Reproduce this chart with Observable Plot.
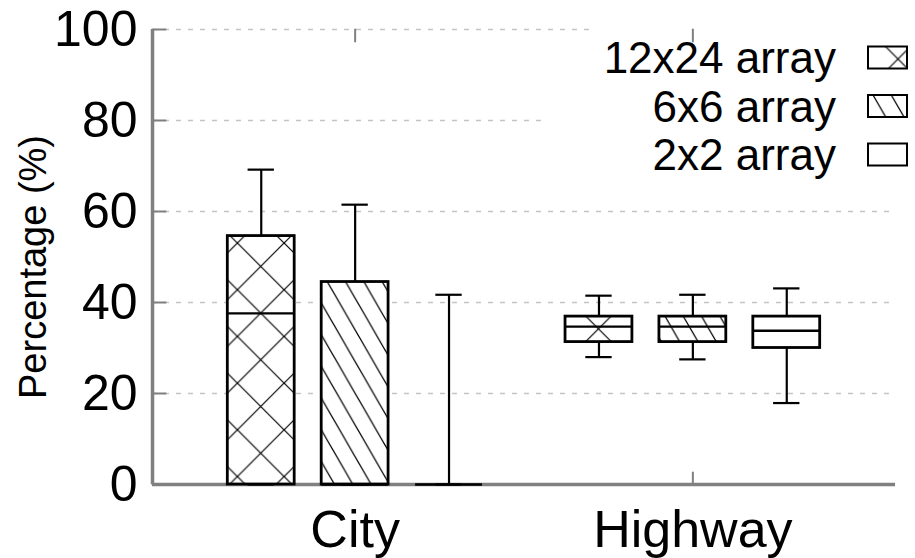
<!DOCTYPE html>
<html><head><meta charset="utf-8">
<script src="https://cdn.jsdelivr.net/npm/d3@7"></script>
<script src="https://cdn.jsdelivr.net/npm/@observablehq/plot@0.6"></script>
<style>body{margin:0;background:#fff} svg{display:block}</style>
</head><body><div id="chart"></div>
<script>
// ---- data ----
const categories = ["City", "Highway"];
const series = ["12x24 array", "6x6 array", "2x2 array"];
const whiskerLow  = [[0, 0, 0], [28.0, 27.5, 17.9]];
const quartile1   = [[0, 0, 0], [31.3, 31.3, 30.0]];
const medians     = [[37.6, 0, 0], [34.7, 34.7, 33.8]];
const quartile3   = [[54.6, 44.5, 0], [36.9, 36.9, 36.9]];
const whiskerHigh = [[69.2, 61.5, 41.7], [41.5, 41.7, 43.1]];
const yTicks = [0, 20, 40, 60, 80, 100];
const yLabel = "Percentage (%)";

// ---- layout / style ----
const W = 915, H = 558;
const FONT = "'Liberation Sans', Arial, Helvetica, sans-serif";
const xDomain = [0.4, 2.6];
const seriesOffset = [-0.278, 0, 0.278];
const boxHalf = 0.099;
const capHalf = 0.039;
const patternKind = ["cross", "diag", "none"];
const AXIS = "#808080";

const rows = [];
categories.forEach((c, ci) => series.forEach((s, si) => rows.push({
  category: c, ci, si, series: s,
  xc: ci + 1 + seriesOffset[si],
  low: whiskerLow[ci][si], q1: quartile1[ci][si], med: medians[ci][si],
  q3: quartile3[ci][si], high: whiskerHigh[ci][si],
  fill: patternKind[si] === "none" ? "white" : `url(#hatch-${ci}-${si})`
})));

function addPattern(defs, id, kind, ox, oy) {
  if (kind === "cross") {
    const s = 46.7;
    const p = defs.append("pattern").attr("id", id).attr("patternUnits", "userSpaceOnUse")
      .attr("width", s).attr("height", s)
      .attr("patternTransform", `translate(${ox - s / 2},${oy - s / 2})`);
    p.append("rect").attr("width", s).attr("height", s).attr("fill", "white");
    p.append("path").attr("d", `M${-s/2},${-s/2}L${1.5*s},${1.5*s}M${1.5*s},${-s/2}L${-s/2},${1.5*s}`)
      .attr("stroke", "black").attr("stroke-width", 1.2).attr("fill", "none");
  } else if (kind === "diag") {
    const w = 18.3, h = 31.7;
    const p = defs.append("pattern").attr("id", id).attr("patternUnits", "userSpaceOnUse")
      .attr("width", w).attr("height", h)
      .attr("patternTransform", `translate(${ox},${oy})`);
    p.append("rect").attr("width", w).attr("height", h).attr("fill", "white");
    p.append("path").attr("d", `M${-w},${-h}L${2*w},${2*h}M0,${-h}L${2*w},${h}M${-2*w},${-h}L${w},${2*h}`)
      .attr("stroke", "black").attr("stroke-width", 1.2).attr("fill", "none");
  }
}

function patternDefs(index, scales) {
  const g = d3.create("svg:g");
  const defs = g.append("defs");
  for (const r of rows) {
    const kind = patternKind[r.si];
    if (kind === "none") continue;
    const left = scales.x(r.xc - boxHalf), right = scales.x(r.xc + boxHalf);
    const top = scales.y(r.q3), bottom = scales.y(r.q1);
    if (kind === "cross") addPattern(defs, `hatch-${r.ci}-${r.si}`, kind, (left + right) / 2, (top + bottom) / 2);
    else addPattern(defs, `hatch-${r.ci}-${r.si}`, kind, left + 6, top);
  }
  addPattern(defs, "legend-0", "cross", 898, 59);
  addPattern(defs, "legend-1", "diag", 873, 95);
  return g.node();
}

function legendBackground() {
  const g = d3.create("svg:g");
  g.append("rect").attr("x", 590).attr("y", 18).attr("width", W - 590).attr("height", 24).attr("fill", "white");
  g.append("rect").attr("x", 545).attr("y", 40).attr("width", W - 545).attr("height", 147).attr("fill", "white");
  return g.node();
}

function legend() {
  const g = d3.create("svg:g").attr("font-family", FONT);
  series.forEach((s, si) => {
    const base = 73 + si * 48.5;
    g.append("text").attr("x", 836).attr("y", base).attr("text-anchor", "end")
      .attr("font-size", 44).attr("fill", "black").text(s);
    g.append("rect").attr("x", 868).attr("y", base - 26.5).attr("width", 39).attr("height", 22)
      .attr("fill", patternKind[si] === "none" ? "white" : `url(#legend-${si})`)
      .attr("stroke", "black").attr("stroke-width", 2);
  });
  return g.node();
}

function yTitle() {
  const g = d3.create("svg:g");
  g.append("text").attr("transform", "translate(46,267) rotate(-90)")
    .attr("text-anchor", "middle").attr("font-family", FONT).attr("font-size", 38)
    .attr("fill", "black").text(yLabel);
  return g.node();
}

const tickShape = { draw(context, l) { context.moveTo(0, 0); context.lineTo(0, -l); } };

const chart = Plot.plot({
  width: W, height: H,
  marginLeft: 152, marginRight: 20, marginTop: 29, marginBottom: 74,
  style: { fontFamily: FONT, background: "white", color: "black", overflow: "visible" },
  x: { type: "linear", domain: xDomain },
  y: { domain: [0, 100] },
  color: { type: "identity" },
  marks: [
    patternDefs,
    Plot.ruleY(yTicks.filter(d => d > 0), { x1: () => xDomain[0], x2: () => xDomain[1], stroke: "#c4c4c4", strokeWidth: 1.3, strokeDasharray: "5,7" }),
    legendBackground,
    Plot.ruleX([xDomain[0]], { y1: 0, y2: 100, stroke: AXIS, strokeWidth: 3.5 }),
    Plot.ruleY([0], { x1: () => xDomain[0], x2: () => xDomain[1], stroke: AXIS, strokeWidth: 3.5 }),
    Plot.vector(yTicks, { x: () => xDomain[0], y: d => d, length: 13, rotate: 90, anchor: "start", shape: tickShape, stroke: AXIS, strokeWidth: 2 }),
    Plot.vector([1, 2], { x: d => d, y: () => 100, length: 12, rotate: 180, anchor: "start", shape: tickShape, stroke: AXIS, strokeWidth: 2 }),
    Plot.vector([1, 2], { x: d => d, y: () => 0, length: 12, rotate: 0, anchor: "start", shape: tickShape, stroke: AXIS, strokeWidth: 2 }),
    // whiskers
    Plot.ruleX(rows, { x: "xc", y1: "q3", y2: "high", stroke: "black", strokeWidth: 2.2 }),
    Plot.ruleX(rows, { x: "xc", y1: "low", y2: "q1", stroke: "black", strokeWidth: 2.2 }),
    Plot.ruleY(rows, { y: "high", x1: r => r.xc - capHalf, x2: r => r.xc + capHalf, stroke: "black", strokeWidth: 2.2 }),
    Plot.ruleY(rows, { y: "low", x1: r => r.xc - capHalf, x2: r => r.xc + capHalf, stroke: "black", strokeWidth: 2.2 }),
    // boxes
    Plot.rect(rows.filter(r => r.q3 > r.q1), { x1: r => r.xc - boxHalf, x2: r => r.xc + boxHalf, y1: "q1", y2: "q3", fill: "fill", stroke: "black", strokeWidth: 2.8 }),
    Plot.ruleY(rows, { y: "med", x1: r => r.xc - boxHalf, x2: r => r.xc + boxHalf, stroke: "black", strokeWidth: 2.4 }),
    legend,
    Plot.axisY({ ticks: yTicks, tickSize: 0, tickPadding: 15, fontSize: 50, label: null }),
    Plot.axisX({ ticks: [1, 2], tickFormat: d => categories[d - 1], tickSize: 0, tickPadding: 26, fontSize: 52, label: null }),
    yTitle
  ]
});
document.getElementById("chart").appendChild(chart);
</script>
</body></html>
